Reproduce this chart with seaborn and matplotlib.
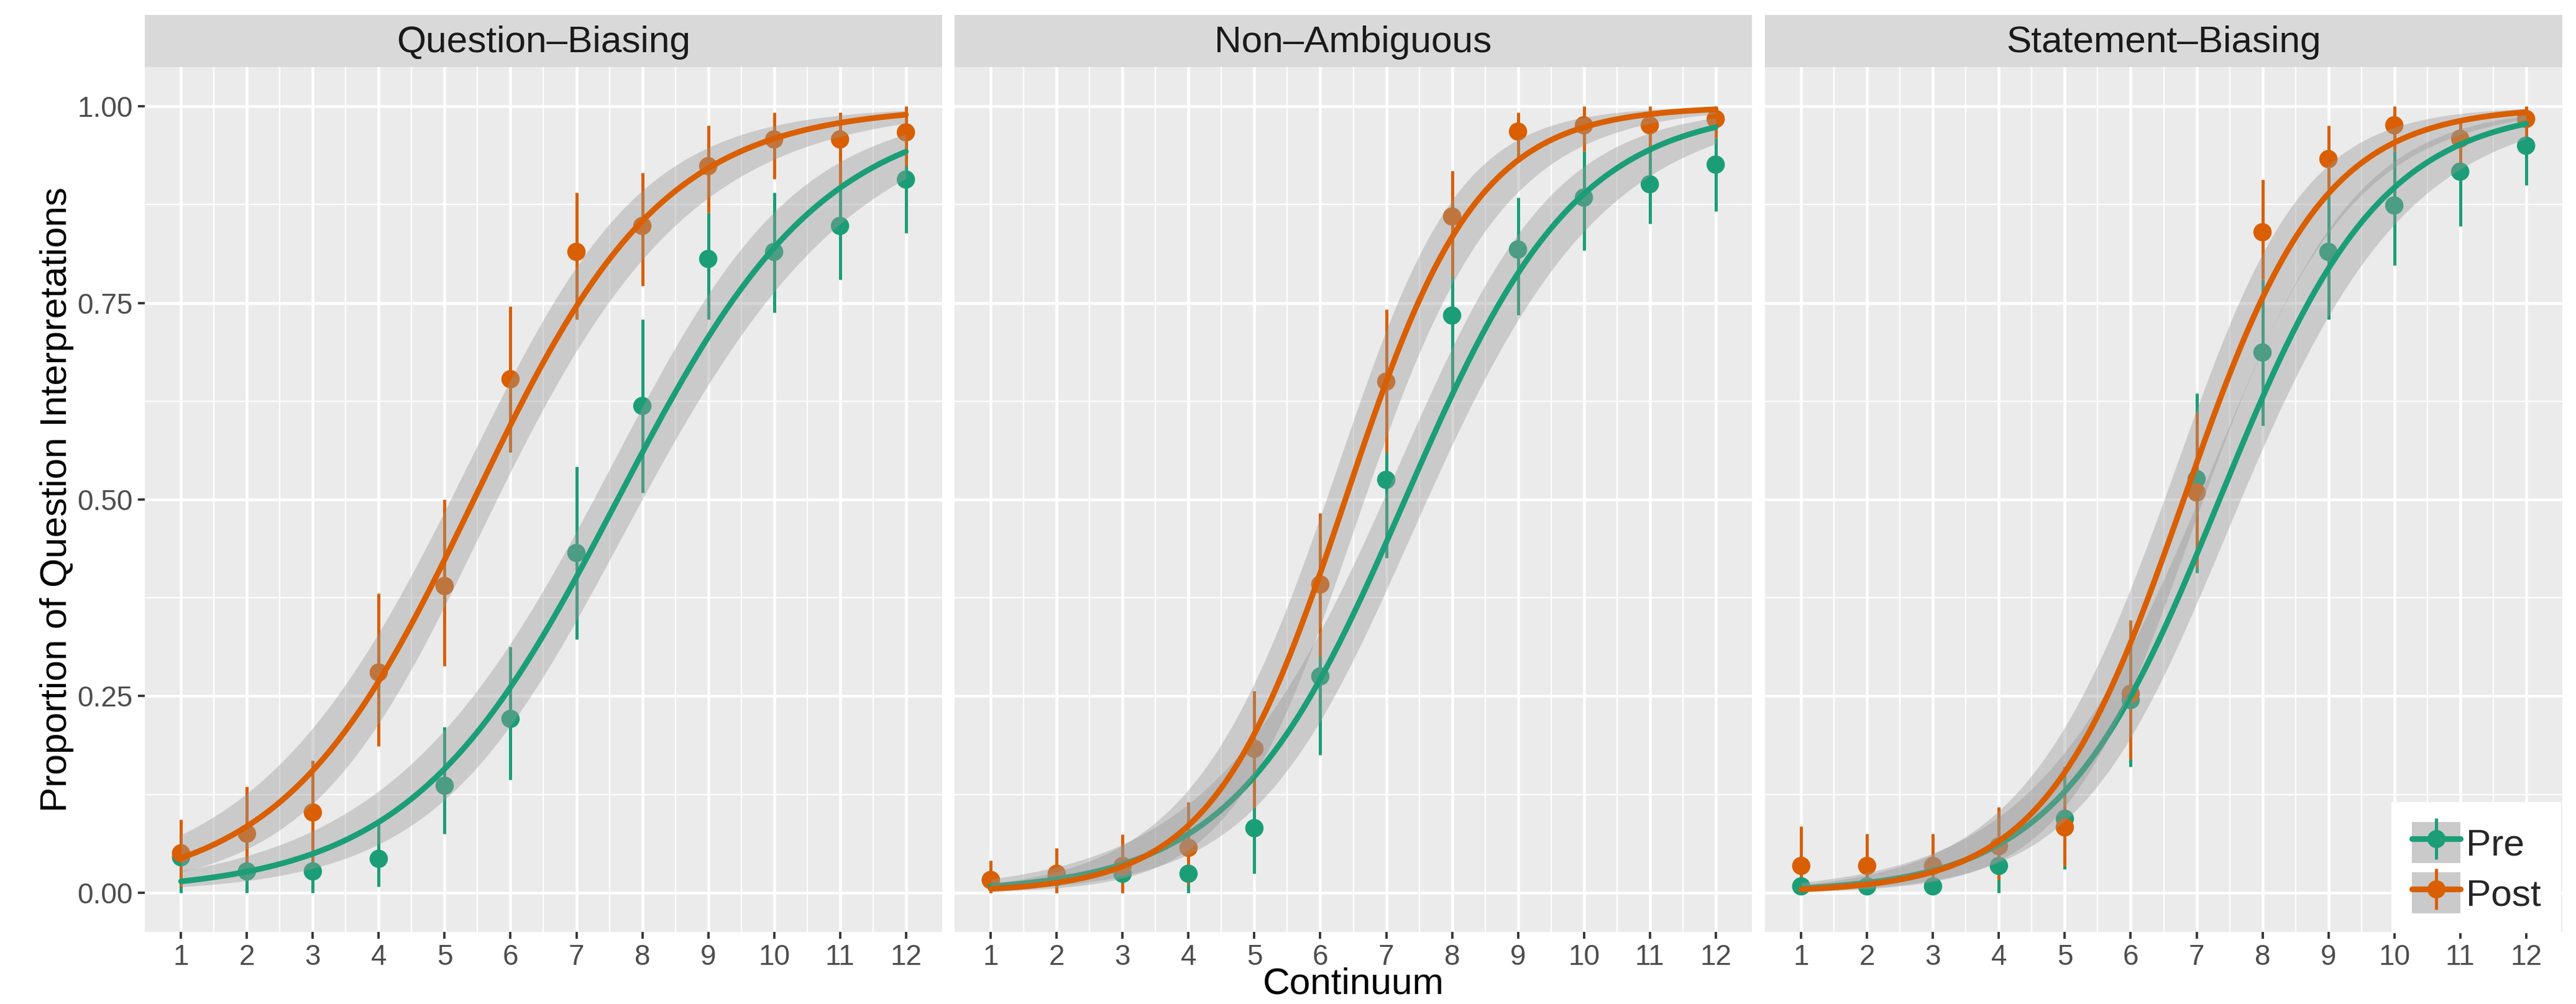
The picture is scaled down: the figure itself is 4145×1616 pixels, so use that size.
import numpy as np
import pandas as pd
import matplotlib
matplotlib.use("Agg")
import matplotlib.pyplot as plt
import seaborn as sns
from matplotlib.lines import Line2D
from matplotlib.patches import Patch
from matplotlib.legend_handler import HandlerTuple
from matplotlib.ticker import FixedLocator

# --- Data ---
continuum = list(range(1, 13))
conditions = ["Question–Biasing", "Non–Ambiguous", "Statement–Biasing"]
phases = ["Pre", "Post"]

# Question-Biasing
qb_pre = [0.045, 0.027, 0.027, 0.043, 0.136, 0.221, 0.432, 0.619, 0.806, 0.815, 0.848, 0.907]
qb_pre_lo = [0.0, 0.0, 0.0, 0.008, 0.075, 0.144, 0.322, 0.509, 0.729, 0.738, 0.780, 0.839]
qb_pre_hi = [0.090, 0.070, 0.065, 0.093, 0.211, 0.313, 0.542, 0.729, 0.865, 0.890, 0.905, 0.960]
qb_post = [0.050, 0.075, 0.102, 0.280, 0.390, 0.653, 0.815, 0.848, 0.924, 0.958, 0.958, 0.967]
qb_post_lo = [0.008, 0.018, 0.040, 0.186, 0.288, 0.560, 0.729, 0.772, 0.865, 0.908, 0.900, 0.924]
qb_post_hi = [0.093, 0.135, 0.168, 0.381, 0.500, 0.746, 0.890, 0.916, 0.976, 0.992, 0.992, 1.0]

# Non-Ambiguous
na_pre = [0.016, 0.020, 0.024, 0.024, 0.082, 0.275, 0.525, 0.734, 0.818, 0.884, 0.901, 0.926]
na_pre_lo = [0.0, 0.0, 0.0, 0.0, 0.024, 0.175, 0.426, 0.635, 0.735, 0.817, 0.851, 0.867]
na_pre_hi = [0.035, 0.045, 0.055, 0.055, 0.140, 0.375, 0.620, 0.830, 0.884, 0.943, 0.950, 0.960]
na_post = [0.016, 0.024, 0.034, 0.057, 0.183, 0.392, 0.650, 0.860, 0.968, 0.976, 0.976, 0.984]
na_post_lo = [0.0, 0.0, 0.0, 0.010, 0.108, 0.300, 0.560, 0.784, 0.933, 0.943, 0.943, 0.960]
na_post_hi = [0.041, 0.057, 0.074, 0.115, 0.257, 0.483, 0.742, 0.918, 0.992, 1.0, 1.0, 1.0]

# Statement-Biasing
sb_pre = [0.008, 0.008, 0.008, 0.034, 0.094, 0.245, 0.526, 0.687, 0.815, 0.874, 0.917, 0.950]
sb_pre_lo = [0.0, 0.0, 0.0, 0.0, 0.030, 0.160, 0.407, 0.594, 0.729, 0.798, 0.848, 0.900]
sb_pre_hi = [0.025, 0.025, 0.025, 0.070, 0.160, 0.340, 0.635, 0.780, 0.888, 0.943, 0.960, 0.980]
sb_post = [0.034, 0.034, 0.034, 0.059, 0.083, 0.253, 0.509, 0.840, 0.933, 0.976, 0.959, 0.984]
sb_post_lo = [0.0, 0.0, 0.0, 0.016, 0.034, 0.170, 0.415, 0.780, 0.888, 0.943, 0.920, 0.960]
sb_post_hi = [0.084, 0.075, 0.075, 0.109, 0.130, 0.347, 0.610, 0.907, 0.976, 1.0, 0.980, 1.0]

TRIALS = 48  # responses per continuum step, used for the glm fit

PALETTE = {"Pre": "#1B9E77", "Post": "#D95F02"}

rows = []
series = {
    ("Question–Biasing", "Pre"): (qb_pre, qb_pre_lo, qb_pre_hi),
    ("Question–Biasing", "Post"): (qb_post, qb_post_lo, qb_post_hi),
    ("Non–Ambiguous", "Pre"): (na_pre, na_pre_lo, na_pre_hi),
    ("Non–Ambiguous", "Post"): (na_post, na_post_lo, na_post_hi),
    ("Statement–Biasing", "Pre"): (sb_pre, sb_pre_lo, sb_pre_hi),
    ("Statement–Biasing", "Post"): (sb_post, sb_post_lo, sb_post_hi),
}
for (cond, ph), (m, lo, hi) in series.items():
    for s, a, b, c in zip(continuum, m, lo, hi):
        rows.append({"condition": cond, "phase": ph, "step": s, "prop": a, "lo": b, "hi": c})
df = pd.DataFrame(rows)


# --- binomial glm (logit link), like stat_smooth(method="glm") ---
def fit_logistic(x, p, n):
    X = np.column_stack([np.ones_like(x), x])
    b = np.zeros(2)
    for _ in range(60):
        eta = X @ b
        mu = 1 / (1 + np.exp(-eta))
        w = n * mu * (1 - mu)
        z = eta + (p - mu) / (mu * (1 - mu))
        XtW = X.T * w
        b = np.linalg.solve(XtW @ X, XtW @ z)
    mu = 1 / (1 + np.exp(-(X @ b)))
    XtW = X.T * (n * mu * (1 - mu))
    cov = np.linalg.inv(XtW @ X)
    return b, cov


def predict(b, cov, xs):
    Xn = np.column_stack([np.ones_like(xs), xs])
    eta = Xn @ b
    se = np.sqrt(np.einsum("ij,jk,ik->i", Xn, cov, Xn))
    inv = lambda e: 1 / (1 + np.exp(-e))
    return inv(eta), inv(eta - 1.96 * se), inv(eta + 1.96 * se)


# --- Figure ---
sns.set_theme(style="darkgrid")
plt.rcParams["font.family"] = ["Liberation Sans Narrow", "Liberation Sans", "DejaVu Sans"]

W, H = 4145, 1616
fig = plt.figure(figsize=(W / 300, H / 300), dpi=300)

lefts = [233, 1536, 2840]
pw = 1283
p_bottom, p_top, s_top = 1500, 108, 24

xs = np.linspace(1, 12, 200)

for i, cond in enumerate(conditions):
    ax = fig.add_axes([lefts[i] / W, 1 - p_bottom / H, pw / W, (p_bottom - p_top) / H])
    ax.set_facecolor("#EBEBEB")
    for sp in ax.spines.values():
        sp.set_visible(False)
    sub = df[df.condition == cond]

    # point ranges
    for ph in phases:
        d = sub[sub.phase == ph]
        ax.vlines(d.step, d.lo, d.hi, color=PALETTE[ph], lw=1.2, zorder=2.4)
    sns.scatterplot(data=sub, x="step", y="prop", hue="phase", palette=PALETTE,
                    s=50, linewidth=0, legend=False, ax=ax, zorder=2.5)

    # glm smooths
    for k, ph in enumerate(phases):
        d = sub[sub.phase == ph]
        b, cov = fit_logistic(d.step.to_numpy(float), d.prop.to_numpy(float), TRIALS)
        fit, lo, hi = predict(b, cov, xs)
        ax.fill_between(xs, lo, hi, color="#999999", alpha=0.4, lw=0, zorder=3 + k)
        sns.lineplot(x=xs, y=fit, color=PALETTE[ph], lw=2.2, ax=ax, zorder=3.5 + k)

    ax.set_xlim(0.45, 12.55)
    ax.set_ylim(-0.05, 1.05)
    ax.set_xticks(continuum)
    ax.set_yticks([0, 0.25, 0.5, 0.75, 1.0])
    ax.set_yticklabels(["0.00", "0.25", "0.50", "0.75", "1.00"])
    ax.xaxis.set_minor_locator(FixedLocator(np.arange(1.5, 12, 1)))
    ax.yaxis.set_minor_locator(FixedLocator([0.125, 0.375, 0.625, 0.875]))
    ax.grid(which="major", color="white", lw=1.1)
    ax.grid(which="minor", color="white", lw=0.55)
    ax.set_axisbelow(True)
    ax.tick_params(which="major", length=2.6, width=0.9, color="#333333",
                   labelcolor="#4D4D4D", labelsize=11, pad=2)
    ax.tick_params(which="minor", length=0)
    ax.tick_params(axis="x", bottom=True)
    ax.tick_params(axis="y", left=True)
    if i > 0:
        ax.tick_params(axis="y", left=False, labelleft=False)
    ax.set_xlabel("")
    ax.set_ylabel("")

    # facet strip
    sax = fig.add_axes([lefts[i] / W, 1 - p_top / H, pw / W, (p_top - s_top) / H])
    sax.set_facecolor("#D9D9D9")
    sax.set_xticks([])
    sax.set_yticks([])
    sax.grid(False)
    for sp in sax.spines.values():
        sp.set_visible(False)
    sax.text(0.5, 0.47, cond, ha="center", va="center", fontsize=14.5, color="#1A1A1A",
             transform=sax.transAxes)

fig.text(92 / W, 1 - 804 / H, "Proportion of Question Interpretations", rotation=90,
         ha="center", va="center", fontsize=14.5, color="black",
         family=["Liberation Sans", "DejaVu Sans"])
fig.text(2178 / W, 0.003, "Continuum", ha="center", va="bottom",
         fontsize=14.5, color="black")

handles = []
for ph in phases:
    c = PALETTE[ph]
    handles.append((Patch(facecolor="#CACACA", edgecolor="none"),
                    Line2D([], [], color=c, lw=2.2),
                    Line2D([], [], marker="|", color=c, ls="", ms=16, mew=1.2),
                    Line2D([], [], marker="o", color=c, ls="", ms=7, mew=0)))
fig.legend(handles, phases, handler_map={tuple: HandlerTuple(ndivide=1, pad=0)},
           loc="lower right", bbox_to_anchor=(4119 / W, 1 - 1500 / H),
           frameon=True, facecolor="white", edgecolor="white", fancybox=False,
           framealpha=1, fontsize=14.5, handlelength=1.3, handleheight=1.3,
           handletextpad=0.15, labelspacing=0.25, borderpad=0.5, borderaxespad=0)

fig.savefig("out.png", dpi=300)
